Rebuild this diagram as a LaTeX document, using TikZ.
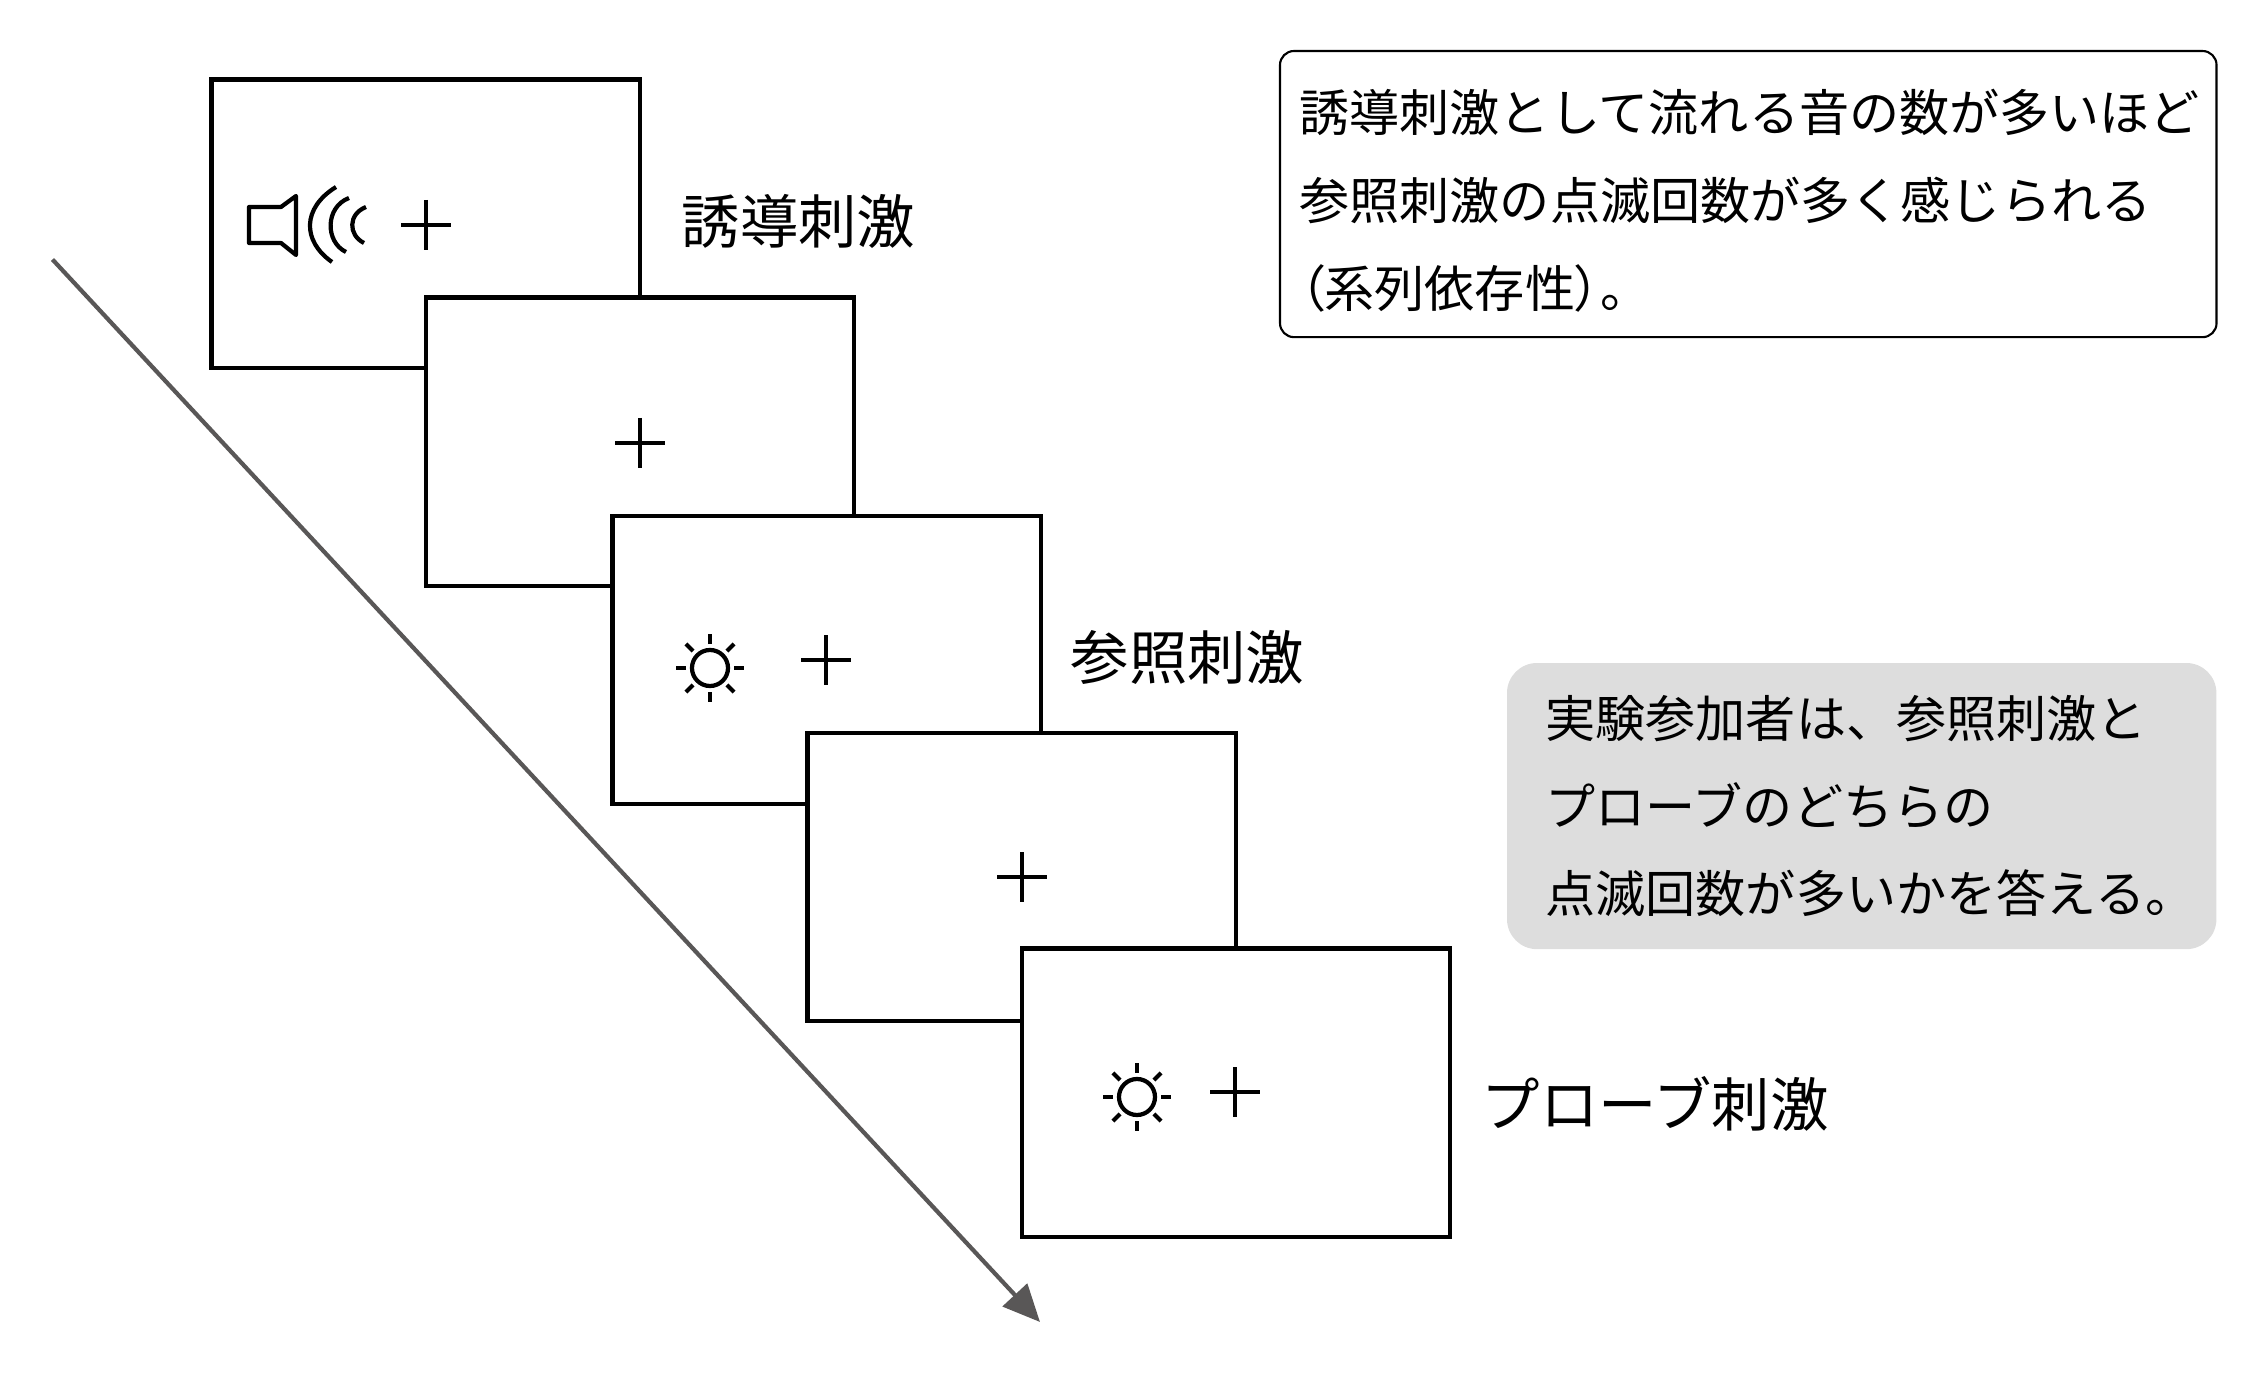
\documentclass[tikz,border=0pt]{standalone}
\usepackage{fontspec}
\setmainfont{Noto Sans CJK JP}
\usetikzlibrary{arrows.meta}
\definecolor{arrowgray}{HTML}{595757}
\definecolor{notegray}{HTML}{DDDDDD}
\tikzset{x=0.01cm,y=-0.01cm,
        screenbox/.style={ % One screen of the trial
            draw,
            fill=white,
            line width=1.15pt,
            outer sep=0pt,
            anchor=north west,
            minimum width=4.28cm,
            minimum height=2.88cm},
        stimlabel/.style={ % Names beside the screens
            anchor=west,
            inner sep=0pt,
            font=\fontsize{16.6}{20}\selectfont},
        notebox/.style={ % Boxes with the explanations
            anchor=north west,
            outer sep=0pt,
            rounded corners=0.14cm,
            align=left,
            inner xsep=0.15cm,
            inner ysep=0pt,
            font=\fontsize{14.25}{25}\selectfont},
        fixcross/.pic={
            \draw[line width=1.2pt] (-25,0) -- (25,0) (0,-25) -- (0,25);
        },
        sunmark/.pic={
            \draw[line width=1.2pt] (0,0) circle[radius=0.18cm];
            \foreach \ang in {0,45,...,315}
                \draw[line width=1.2pt] (\ang:24) -- (\ang:34);
        }
        }

\begin{document}
\begin{tikzpicture}
    \useasboundingbox (0,0) rectangle (2268,1373);

    % time arrow
    \coordinate (start) at (52.5,259.5);
    \coordinate (end)   at (1040,1322);
    \draw[arrowgray,line width=1.2pt,-{Triangle[length=0.37cm,width=0.33cm]}] (start) -- (end);

    % screens
    \node[screenbox] (inducer)  at (211.5,79.5) {};
    \node[screenbox] (blankA)   at (426,297.5) {};
    \node[screenbox] (referent) at (612.5,516) {};
    \node[screenbox] (blankB)   at (807.5,733) {};
    \node[screenbox] (probe)    at (1022,948.5) {};

    % fixation crosses
    \pic at (426,225)  {fixcross};
    \pic at (640,443)  {fixcross};
    \pic at (826,660)  {fixcross};
    \pic at (1022,877) {fixcross};
    \pic at (1235,1092) {fixcross};

    % flashes
    \pic at (710,668)  {sunmark};
    \pic at (1137,1097) {sunmark};

    % speaker
    \draw[line width=1.2pt,line join=round]
        (249,207) -- (281,207) -- (296,196) -- (296,255) -- (281,243) -- (249,243) -- cycle;
    \draw[line width=1.2pt]
        (336,187) .. controls (302,208) and (302,241) .. (332,262)
        (349,198) .. controls (325,207) and (325,242) .. (346,252)
        (366,207) .. controls (348,214) and (348,235) .. (364,243);

    % names of the stimuli
    \node[stimlabel] (inducerlabel)  at (681,221)  {誘導刺激};
    \node[stimlabel] (referentlabel) at (1070,657) {参照刺激};
    \node[stimlabel] (probelabel)    at (1481,1104) {プローブ刺激};

    % explanations
    \node[notebox,draw,line width=0.6pt,minimum width=9.36cm,minimum height=2.86cm,text width=8.97cm] (effectnote) at (1280,51)
        {\rule{0pt}{0.55cm}誘導刺激として流れる音の数が多いほど\\参照刺激の点滅回数が多く感じられる\\{\addfontfeature{RawFeature=+palt}（系列依存性）。}};
    \node[notebox,fill=notegray,rounded corners=0.3cm,minimum width=7.09cm,minimum height=2.86cm,text width=6.32cm] (tasknote) at (1507,663)
        {実験参加者は、参照刺激と\\プローブのどちらの\\点滅回数が多いかを答える。};
\end{tikzpicture}
\end{document}
